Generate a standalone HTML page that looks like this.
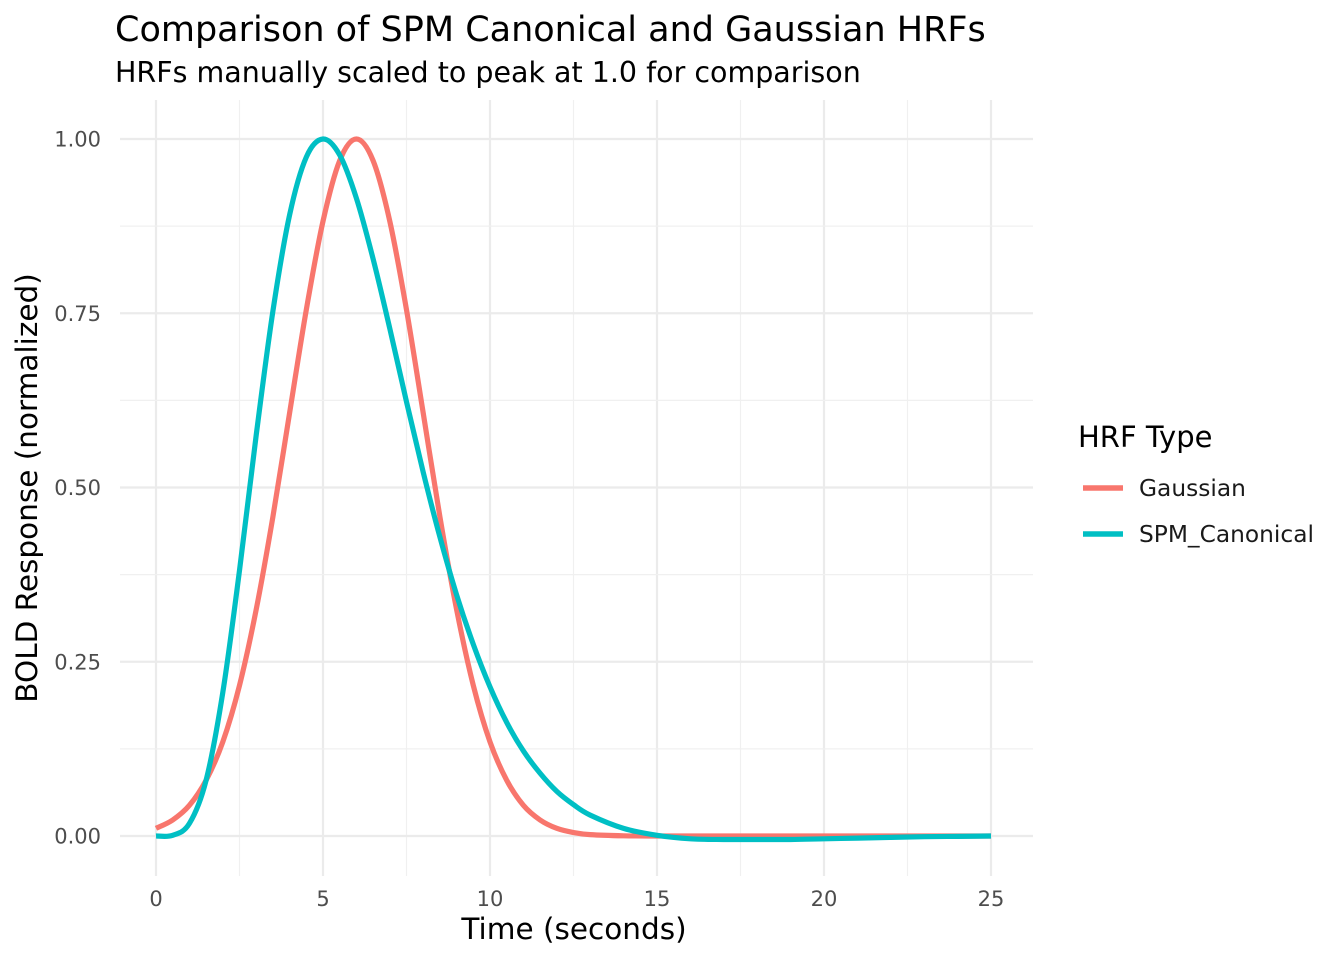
<!DOCTYPE html>
<html><head><meta charset="utf-8"><style>
body{margin:0;background:#fff;}
svg text{font-family:"DejaVu Sans","Liberation Sans",sans-serif;}
</style></head><body>
<svg width="1344" height="960" viewBox="0 0 1344 960" xmlns="http://www.w3.org/2000/svg">
<text x="115" y="41" font-size="35" fill="#000">Comparison of SPM Canonical and Gaussian HRFs</text>
<text x="115" y="82" font-size="28.5" fill="#000">HRFs manually scaled to peak at 1.0 for comparison</text>
<g id="grid"></g>
<g id="series"></g>
<g id="ticks"></g>
<text x="574" y="939" font-size="29.5" text-anchor="middle" fill="#000">Time (seconds)</text>
<text transform="translate(37,488) rotate(-90)" font-size="29.5" text-anchor="middle" fill="#000">BOLD Response (normalized)</text>
<g>
<text x="1078" y="447" font-size="29" fill="#000">HRF Type</text>
<g><line x1="1083" x2="1123" y1="488" y2="488" stroke="#F8766D" stroke-width="5.5"/><text x="1139" y="496" font-size="23.3" fill="#1a1a1a">Gaussian</text></g>
<g><line x1="1083" x2="1123" y1="534" y2="534" stroke="#00BFC4" stroke-width="5.5"/><text x="1139" y="542" font-size="23.3" fill="#1a1a1a">SPM_Canonical</text></g>
</g>
</svg>
<script>
const times=[0,0.5,1,1.5,2,2.5,3,3.5,4,4.5,5,5.5,6,6.5,7,7.5,8,8.5,9,9.5,10,10.5,11,11.5,12,12.5,13,14,15,16,17,18,19,20,21,22,23,24,25];
const gaussian=[0.011,0.023,0.044,0.080,0.135,0.216,0.325,0.458,0.607,0.755,0.882,0.969,1,0.969,0.882,0.755,0.607,0.458,0.325,0.216,0.135,0.080,0.044,0.023,0.011,0.005,0.002,0.0003,0,0,0,0,0,0,0,0,0,0,0];
const spm=[0,0.001,0.018,0.080,0.206,0.381,0.575,0.753,0.891,0.974,1,0.977,0.915,0.828,0.728,0.623,0.522,0.429,0.346,0.275,0.214,0.163,0.122,0.090,0.064,0.045,0.030,0.011,0.001,-0.004,-0.005,-0.005,-0.005,-0.004,-0.003,-0.002,-0.001,-0.0005,0];
const xTicks=[0,5,10,15,20,25];
const yTicks=[0,0.25,0.5,0.75,1];
const yTickLabels=["0.00","0.25","0.50","0.75","1.00"];
const NS="http://www.w3.org/2000/svg";
const X=v=>156+v*(991-156)/25;
const Y=v=>836-v*(836-139);
const PX0=120,PX1=1033,PY0=100,PY1=876;
function mk(tag,attrs,parent){const e=document.createElementNS(NS,tag);for(const k in attrs)e.setAttribute(k,attrs[k]);parent.appendChild(e);return e;}
const grid=document.getElementById('grid'),ticks=document.getElementById('ticks'),series=document.getElementById('series');
for(let i=0;i<xTicks.length;i++){
  const v=xTicks[i];
  const l=mk('line',{x1:X(v),x2:X(v),y1:PY0,y2:PY1,stroke:'#ebebeb','stroke-width':2.2},grid);
  
  
  if(i<xTicks.length-1){const m=mk('line',{x1:X(v+2.5),x2:X(v+2.5),y1:PY0,y2:PY1,stroke:'#f0f0f0','stroke-width':1.2},grid);
  
  }
  const t=mk('text',{x:X(v),y:906,'font-size':21,'text-anchor':'middle',fill:'#4d4d4d'},ticks);t.textContent=v;
  
  
}
for(let i=0;i<yTicks.length;i++){
  const v=yTicks[i];
  const l=mk('line',{x1:PX0,x2:PX1,y1:Y(v),y2:Y(v),stroke:'#ebebeb','stroke-width':2.2},grid);
  
  
  if(i<yTicks.length-1){const m=mk('line',{x1:PX0,x2:PX1,y1:Y(v+0.125),y2:Y(v+0.125),stroke:'#f0f0f0','stroke-width':1.2},grid);
  
  }
  const t=mk('text',{x:101,y:Y(v)+7.5,'font-size':21,'text-anchor':'end',fill:'#4d4d4d'},ticks);t.textContent=yTickLabels[i];
  
  
}
function pathFor(vals){
  const p=times.map((t,i)=>[X(t),Y(vals[i])]);
  let d='M'+p[0][0]+','+p[0][1];
  for(let i=0;i<p.length-1;i++){
    const p0=p[i-1]||p[i],p1=p[i],p2=p[i+1],p3=p[i+2]||p2;
    const c1=[p1[0]+(p2[0]-p0[0])/6,p1[1]+(p2[1]-p0[1])/6];
    const c2=[p2[0]-(p3[0]-p1[0])/6,p2[1]-(p3[1]-p1[1])/6];
    d+=' C'+c1[0]+','+c1[1]+' '+c2[0]+','+c2[1]+' '+p2[0]+','+p2[1];
  }
  return d;
}
const g=mk('path',{d:pathFor(gaussian),fill:'none',stroke:'#F8766D','stroke-width':5.2},series);


const s=mk('path',{d:pathFor(spm),fill:'none',stroke:'#00BFC4','stroke-width':5.2},series);


</script>
</body></html>
